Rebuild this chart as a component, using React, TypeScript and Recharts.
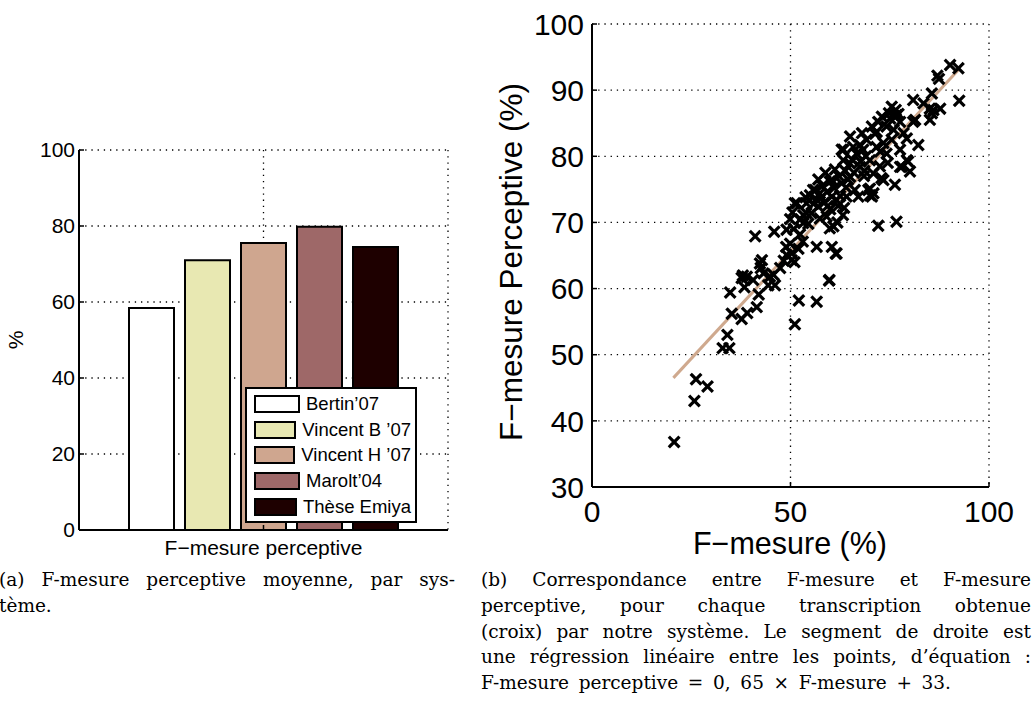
import React from "react";
import {
  BarChart,
  Bar,
  ComposedChart,
  Scatter,
  Line,
  XAxis,
  YAxis,
  CartesianGrid,
  Legend,
} from "recharts";

// (a) perceptive F-measure per system
const systems = ["Bertin’07", "Vincent B ’07", "Vincent H ’07", "Marolt’04", "Thèse Emiya"];
const perceptiveScores = [58.4, 71.0, 75.5, 79.8, 74.5];
const barCategory = ["F−mesure perceptive"];
const barTicks = [0, 20, 40, 60, 80, 100];

// (b) F-measure vs perceptive F-measure, one cross per transcription
const fMeasure = [
  20.7, 25.8, 26.2, 29.1, 32.9, 34.6, 34.1, 35.2, 34.8, 37.7, 39.1, 41.5, 42.0, 37.7, 38.4, 39.0, 40.6, 42.3, 42.5, 43.2,
  41.1, 44.8, 44.4, 42.8, 38.0,
  46.1, 45.7, 47.4, 49.0, 50.3, 52.1, 51.1, 45.9, 49.0, 49.9, 48.9, 49.9, 50.3, 51.0, 51.6, 53.2, 53.2, 53.1, 52.4, 54.0,
  51.1, 54.0, 54.9, 52.5, 48.3, 50.8, 52.0, 54.5, 53.8, 50.5,
  55.7, 57.4, 56.2, 57.0, 55.3, 57.4, 56.6, 56.6, 59.7, 61.4, 60.4, 61.6, 59.8, 60.8, 59.9, 59.1, 63.2, 60.4, 61.6, 64.1,
  60.4, 62.9, 59.9, 63.3, 62.9, 65.0, 65.0, 63.3, 58.5, 58.0, 62.0, 64.5, 58.8, 61.2, 63.8, 60.0, 56.5, 55.8, 57.8, 59.2,
  61.0, 62.5, 64.0, 62.2, 57.0, 59.4, 63.5, 61.8,
  67.5, 66.6, 68.3, 70.0, 71.7, 73.4, 70.9, 71.7, 72.1, 74.2, 69.2, 67.5, 66.2, 67.1, 69.6, 70.5, 65.0, 72.1, 71.3, 65.8,
  67.6, 68.6, 73.4, 72.6, 74.2, 72.9, 70.0, 70.0, 70.9, 68.5, 66.0, 69.0, 72.5, 74.5, 65.5, 68.0, 70.5, 73.0, 74.8,
  75.9, 75.1, 76.7, 77.6, 79.3, 82.2, 77.6, 79.3, 80.1, 77.6, 76.3, 76.7, 80.9, 85.6, 85.1, 85.6, 87.7, 85.1, 83.5, 80.9,
  81.4, 86.0, 87.0, 87.4, 90.2, 92.3, 92.5, 76.0, 78.5, 75.5, 76.5, 75.5, 77.2, 78.0, 79.6,
];
const fPerceptive = [
  36.8, 43.0, 46.3, 45.2, 51.0, 51.0, 53.0, 56.2, 59.4, 55.4, 56.3, 57.2, 59.1, 61.6, 60.2, 61.8, 61.3, 63.8, 63.1, 62.3,
  67.9, 61.8, 60.5, 64.3, 62.0,
  60.5, 62.1, 63.1, 65.1, 64.3, 58.2, 54.6, 68.6, 68.9, 70.5, 66.3, 66.8, 65.3, 64.0, 72.9, 71.1, 69.9, 67.1, 68.2, 71.4,
  72.9, 72.9, 74.1, 70.5, 64.2, 69.0, 66.0, 69.8, 73.8, 71.5,
  74.9, 74.4, 74.9, 72.4, 71.4, 70.6, 66.3, 58.0, 61.2, 65.3, 66.3, 65.3, 61.3, 69.4, 69.1, 70.9, 71.1, 73.9, 73.4, 73.9,
  76.4, 75.9, 76.2, 79.4, 81.0, 83.0, 78.9, 81.0, 73.0, 75.5, 72.5, 76.5, 77.5, 78.0, 77.8, 72.0, 73.5, 72.8, 73.8, 74.6,
  75.2, 74.0, 75.3, 77.0, 76.5, 72.5, 72.2, 70.0,
  78.4, 80.4, 81.0, 79.4, 81.4, 76.4, 77.4, 83.7, 85.2, 84.5, 82.5, 81.7, 74.9, 73.9, 74.9, 73.9, 76.9, 69.5, 83.4, 81.4,
  79.2, 77.8, 82.0, 80.7, 80.4, 76.7, 75.1, 74.1, 74.4, 77.0, 77.5, 80.0, 78.5, 79.0, 79.5, 83.5, 84.5, 86.0, 86.5,
  86.2, 85.7, 86.2, 85.2, 82.7, 81.7, 81.0, 79.4, 77.7, 78.4, 75.7, 70.1, 88.5, 89.5, 87.2, 86.5, 87.2, 85.5, 88.0, 85.2,
  85.5, 87.0, 92.2, 91.7, 93.8, 93.3, 88.4, 84.0, 83.5, 82.5, 87.0, 87.5, 86.4, 78.4, 79.2,
];
// end points of the fitted segment
const regressionX = [20.5, 92.5];
const regressionY = [46.5, 93.2];
const xTicks = [0, 50, 100];
const yTicks = [30, 40, 50, 60, 70, 80, 90, 100];

const captionA = ["(a) F-mesure perceptive moyenne, par sys-", "tème."];
const captionB = [
  "(b) Correspondance entre F-mesure et F-mesure",
  "perceptive, pour chaque transcription obtenue",
  "(croix) par notre système. Le segment de droite est",
  "une régression linéaire entre les points, d’équation :",
  "F-mesure perceptive = 0, 65 × F-mesure + 33.",
];

const barColors = ["#ffffff", "#e8e8b2", "#cfa68f", "#9e6868", "#1e0000"];

const sans = "'Liberation Sans', Arial, Helvetica, sans-serif";
const serif = "'DejaVu Serif', 'Liberation Serif', serif";

const barRows = [
  barCategory.reduce((row: any, name) => {
    row.name = name;
    systems.forEach((s, i) => (row[s] = perceptiveScores[i]));
    return row;
  }, {}),
];

const points = fMeasure.map((x, i) => ({ x, y: fPerceptive[i] }));
const regression = regressionX.map((x, i) => ({ x, y: regressionY[i] }));

const axisLine = { stroke: "#000", strokeWidth: 2 };
const tickLine = { stroke: "#000", strokeWidth: 1.5 };
const gridStyle = { stroke: "#000", strokeWidth: 1.3, strokeDasharray: "1.3 4.9" };

const Cross = (props: any) => {
  const { cx, cy } = props;
  const r = 4.2;
  return (
    <g stroke="#000" strokeWidth={3.2} strokeLinecap="square">
      <line x1={cx - r} y1={cy - r} x2={cx + r} y2={cy + r} />
      <line x1={cx - r} y1={cy + r} x2={cx + r} y2={cy - r} />
    </g>
  );
};

const renderLegend = (props: any) => {
  const items = [...(props.payload || [])].sort(
    (a: any, b: any) => systems.indexOf(a.value) - systems.indexOf(b.value)
  );
  return (
    <div
      style={{
        border: "2px solid #000",
        background: "#fff",
        padding: "2px 4px 2px 7px",
        fontFamily: sans,
        fontSize: 18.5,
        color: "#000",
      }}
    >
      {items.map((entry: any, i: number) => (
        <div key={i} style={{ display: "flex", alignItems: "center", height: 25.7 }}>
          <span
            style={{
              width: 42,
              height: 14,
              border: "2px solid #000",
              background: entry.color,
              marginRight: 6,
              display: "inline-block",
            }}
          />
          <span style={{ whiteSpace: "nowrap" }}>{entry.value}</span>
        </div>
      ))}
    </div>
  );
};

function SystemBars() {
  return (
    <BarChart
      width={470}
      height={580}
      data={barRows}
      margin={{ top: 150, right: 22, bottom: 20, left: 0 }}
      barGap={11}
    >
      <CartesianGrid {...gridStyle} />
      <XAxis
        dataKey="name"
        height={30}
        tickSize={-5}
        tickMargin={15}
        axisLine={axisLine}
        tickLine={tickLine}
        tick={{ fill: "#000", fontSize: 21, fontFamily: sans }}
      />
      <XAxis
        xAxisId="top"
        dataKey="name"
        orientation="top"
        height={0}
        mirror
        tick={false}
        tickSize={5}
        axisLine={axisLine}
        tickLine={tickLine}
      />
      <YAxis
        domain={[0, 100]}
        ticks={barTicks}
        width={79}
        tickSize={-5}
        tickMargin={9}
        axisLine={axisLine}
        tickLine={tickLine}
        tick={{ fill: "#000", fontSize: 21, fontFamily: sans }}
        label={{
          content: () => (
            <text
              x={15}
              y={340}
              transform="rotate(-90 15 340)"
              textAnchor="middle"
              dominantBaseline="central"
              fontSize={21}
              fontFamily={sans}
              fill="#000"
            >
              %
            </text>
          ),
        }}
      />
      <YAxis
        yAxisId="right"
        orientation="right"
        domain={[0, 100]}
        ticks={barTicks}
        width={0}
        mirror
        tick={false}
        tickSize={5}
        axisLine={axisLine}
        tickLine={tickLine}
      />
      {systems.map((s, i) => (
        <Bar
          key={s}
          dataKey={s}
          name={s}
          fill={barColors[i]}
          stroke="#000"
          strokeWidth={2}
          barSize={45}
          isAnimationActive={false}
        />
      ))}
      <Legend
        layout="vertical"
        align="center"
        verticalAlign="middle"
        content={renderLegend}
        wrapperStyle={{ left: 245, top: 387, width: 172 }}
      />
    </BarChart>
  );
}

function Correspondence() {
  return (
    <ComposedChart
      width={554}
      height={570}
      margin={{ top: 24, right: 45, bottom: 13, left: 0 }}
    >
      <CartesianGrid {...gridStyle} />
      <XAxis
        dataKey="x"
        type="number"
        domain={[0, 100]}
        ticks={xTicks}
        height={70}
        tickSize={-5}
        tickMargin={19}
        axisLine={axisLine}
        tickLine={tickLine}
        tick={{ fill: "#000", fontSize: 30, fontFamily: sans }}
        label={{
          content: () => (
            <text x={310} y={554} textAnchor="middle" fontSize={30.5} fontFamily={sans} fill="#000">
              F−mesure (%)
            </text>
          ),
        }}
      />
      <XAxis
        xAxisId="top"
        dataKey="x"
        type="number"
        orientation="top"
        domain={[0, 100]}
        ticks={xTicks}
        height={0}
        mirror
        tick={false}
        tickSize={5}
        axisLine={axisLine}
        tickLine={tickLine}
      />
      <YAxis
        type="number"
        domain={[30, 100]}
        ticks={yTicks}
        width={112}
        tickSize={-5}
        tickMargin={13}
        axisLine={axisLine}
        tickLine={tickLine}
        tick={{ fill: "#000", fontSize: 30, fontFamily: sans }}
        label={{
          content: () => (
            <text
              x={31}
              y={262}
              transform="rotate(-90 31 262)"
              textAnchor="middle"
              dominantBaseline="central"
              fontSize={31.5}
              fontFamily={sans}
              fill="#000"
            >
              F−mesure Perceptive (%)
            </text>
          ),
        }}
      />
      <YAxis
        yAxisId="right"
        orientation="right"
        type="number"
        domain={[30, 100]}
        ticks={yTicks}
        width={0}
        mirror
        tick={false}
        tickSize={5}
        axisLine={axisLine}
        tickLine={tickLine}
      />
      <Scatter data={points} dataKey="y" shape={Cross} isAnimationActive={false} />
      <Line
        data={regression}
        dataKey="y"
        stroke="#cfa98e"
        strokeWidth={3}
        dot={false}
        isAnimationActive={false}
      />
    </ComposedChart>
  );
}

const Caption = ({
  lines,
  left,
  width,
  lastWidth,
}: {
  lines: string[];
  left: number;
  width: number;
  lastWidth?: number;
}) => (
  <div
    style={{
      position: "absolute",
      left,
      top: 567,
      width,
      fontFamily: serif,
      fontSize: 18.5,
      lineHeight: "25.8px",
      color: "#000",
    }}
  >
    {lines.map((line, i) => {
      const last = i === lines.length - 1;
      const stretch = !last || lastWidth !== undefined;
      return (
        <div
          key={i}
          style={{
            width: last && lastWidth ? lastWidth : undefined,
            textAlign: stretch ? "justify" : "left",
            textAlignLast: stretch ? "justify" : "left",
            whiteSpace: "nowrap",
          }}
        >
          {line}
        </div>
      );
    })}
  </div>
);

export default function App() {
  return (
    <div
      style={{
        position: "absolute",
        left: 0,
        top: 0,
        width: 1034,
        height: 719,
        overflow: "hidden",
        background: "#fff",
      }}
    >
      <div style={{ position: "absolute", left: 0, top: 0 }}>
        <SystemBars />
      </div>
      <div style={{ position: "absolute", left: 480, top: 0 }}>
        <Correspondence />
      </div>
      <Caption lines={captionA} left={-1} width={456} />
      <Caption lines={captionB} left={481} width={550} lastWidth={470} />
    </div>
  );
}
